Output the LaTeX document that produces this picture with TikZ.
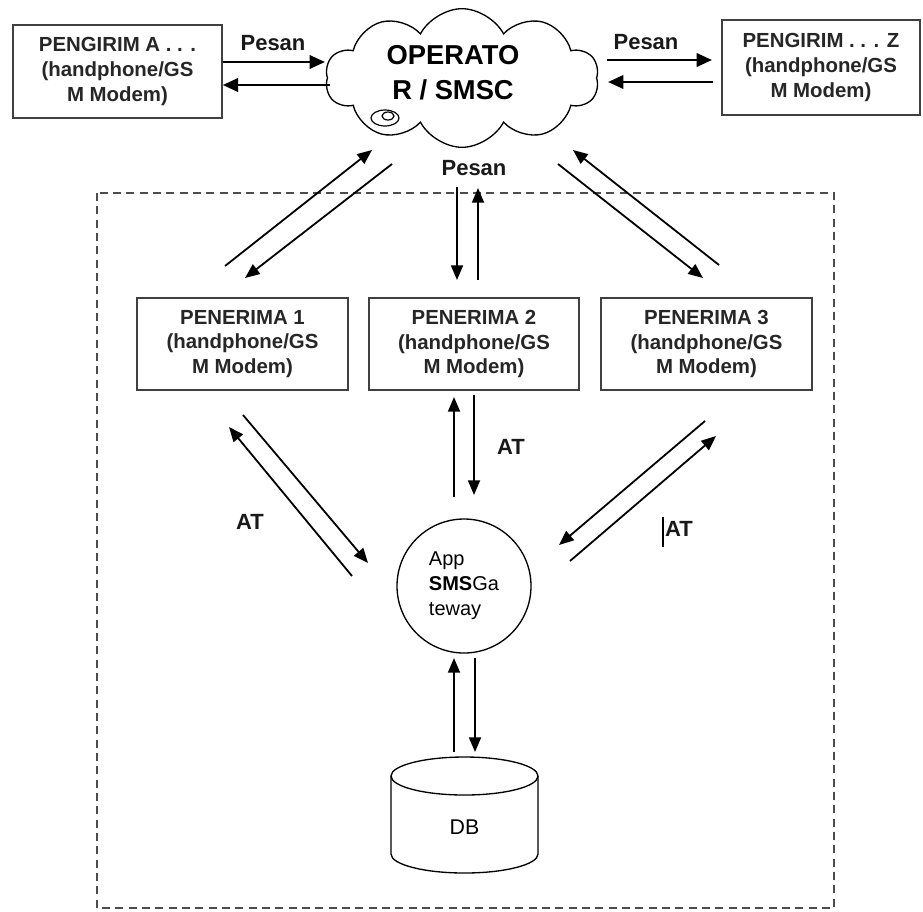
\documentclass[tikz,border=0pt]{standalone}
\usepackage{fontspec}
\setmainfont{Liberation Sans}
\usetikzlibrary{arrows.meta,shapes.symbols,calc}
\begin{document}
\begin{tikzpicture}[x=0.75pt,y=-0.75pt,
  box/.style={draw=black!75, line width=1.1pt, inner sep=0pt, align=center,
    font=\fontsize{15.3}{18.5}\selectfont\bfseries, text=black!85},
  arr/.style={line width=1.8pt, -{Triangle[length=11.5pt,width=10pt]}},
  darr/.style={line width=1.35pt, -{Triangle[length=11pt,width=9pt]}},
  lbl/.style={font=\fontsize{16.5}{18}\selectfont\bfseries, inner sep=0pt, text=black!90},
]
\useasboundingbox (0,0) rectangle (923,911);
% dashed system boundary
\draw[black!70, line width=0.8pt, dash pattern=on 6pt off 4pt] (97,193) rectangle (834,908);

% senders
\node[box, minimum width=156.75pt, minimum height=69.75pt] (A) at (117.5,71.5)
  {PENGIRIM A . . .\\(handphone/GS\\M Modem)};
\node[box, minimum width=148.5pt, minimum height=71.25pt] (Z) at (821,67.5)
  {PENGIRIM . . . Z\\(handphone/GS\\M Modem)};

% operator cloud
\node[cloud, draw, line width=1pt, cloud puffs=10, cloud puff arc=125, cloud ignores aspect,
  minimum width=205pt, minimum height=104pt] (cloud) at (462,78) {};
\node[font=\fontsize{20.5}{26}\selectfont\bfseries, align=center, inner sep=0pt] (optext) at (453,72.5)
  {OPERATO\\R / SMSC};
\draw[line width=0.9pt] (385,118) ellipse [x radius=14, y radius=8];
\draw[line width=0.9pt] (388,116) ellipse [x radius=6, y radius=4];

% receivers
\node[box, minimum width=158.25pt, minimum height=69pt] (P1) at (242.5,344)
  {PENERIMA 1\\(handphone/GS\\M Modem)};
\node[box, minimum width=157.5pt, minimum height=69pt] (P2) at (474,344)
  {PENERIMA 2\\(handphone/GS\\M Modem)};
\node[box, minimum width=158.25pt, minimum height=69pt] (P3) at (706.5,344)
  {PENERIMA 3\\(handphone/GS\\M Modem)};

% gateway
\node[circle, draw, line width=1pt, minimum size=100.5pt, inner sep=0pt, align=left,
  font=\fontsize{15}{18.75}\selectfont] (App) at (464,586)
  {App\\\textbf{SMS}Ga\\teway};

% database
\draw[line width=1pt] (391,776) -- (391,854) arc[start angle=180, end angle=0, x radius=73.5, y radius=19] -- (538,776);
\draw[line width=1pt] (464.5,776) ellipse [x radius=73.5, y radius=19];
\node[font=\fontsize{16}{18}\selectfont, inner sep=0pt] (DB) at (464.5,827) {DB};

% sender <-> operator
\draw[arr] (A.east |- 0,62) -- (325,62);
\draw[arr] (330,85) -- (A.east |- 0,85);
\draw[arr] (607,60) -- (712,60);
\draw[arr] (713,82) -- (608,82);
\node[lbl] (pa) at (273,43) {Pesan};
\node[lbl] (pz) at (646,42) {Pesan};

% operator <-> receivers
\draw[darr] (225,266) -- (372,150);
\draw[darr] (392,164) -- (245,278);
\draw[darr] (719,265) -- (573,150);
\draw[darr] (558,164) -- (703,278);
\draw[darr] (457,187) -- (457,280);
\draw[darr] (478,280) -- (478,188);
\node[lbl] (pm) at (474,168) {Pesan};

% receivers <-> gateway
\draw[darr] (352,576) -- (229,427);
\draw[darr] (243,415) -- (368,563);
\draw[darr] (454,497) -- (454,397);
\draw[darr] (474,395) -- (474,495);
\draw[darr] (705,421) -- (559,545);
\draw[darr] (570,561) -- (716,436);
\node[lbl] (at1) at (250,522) {AT};
\node[lbl] (at2) at (511,447) {AT};
\node[lbl] (at3) at (679,529) {AT};
\draw[line width=0.8pt] (663,517) -- (663,547);

% gateway <-> database
\draw[darr] (454,752) -- (454,658);
\draw[darr] (475,658) -- (475,752);
\end{tikzpicture}
\end{document}
